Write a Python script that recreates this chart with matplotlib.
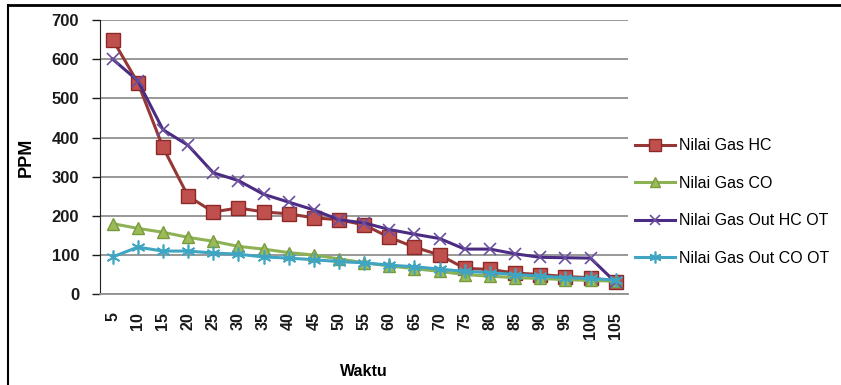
import numpy as np
import matplotlib.pyplot as plt
from matplotlib.lines import Line2D

plt.rcParams['font.family'] = ['Liberation Sans', 'DejaVu Sans']

# Data
waktu = [5, 10, 15, 20, 25, 30, 35, 40, 45, 50, 55, 60, 65, 70, 75, 80, 85, 90, 95, 100, 105]
gas_hc = [650, 540, 375, 250, 210, 220, 210, 205, 195, 190, 177, 145, 120, 100, 66, 63, 54, 50, 45, 42, 32]
gas_co = [180, 168, 158, 145, 135, 122, 115, 106, 100, 90, 80, 72, 65, 58, 50, 46, 42, 40, 37, 35, 33]
gas_out_hc = [600, 545, 420, 380, 310, 290, 255, 235, 215, 190, 182, 165, 153, 142, 115, 115, 103, 94, 93, 92, 30]
gas_out_co = [95, 120, 110, 110, 105, 102, 95, 92, 88, 83, 80, 74, 70, 64, 58, 55, 50, 46, 42, 40, 36]

x = np.arange(len(waktu))

fig = plt.figure(figsize=(8.41, 3.85), dpi=100)
ax = fig.add_axes([0.119, 0.236, 0.628, 0.712])

ax.plot(x, gas_hc, color='#953735', lw=2.2, marker='s', ms=10,
        mfc='#C0504D', mec='#8B2A28', mew=1, label='Nilai Gas HC')
ax.plot(x, gas_co, color='#8DB255', lw=2.2, marker='^', ms=9,
        mfc='#9BBB59', mec='#7A9A3F', mew=1, label='Nilai Gas CO')
ax.plot(x, gas_out_hc, color='#4B2C82', lw=2.2, marker='x', ms=9,
        mec='#6A4FA0', mew=1.2, label='Nilai Gas Out HC OT')
ax.plot(x, gas_out_co, color='#3FA5C2', lw=2.2, marker=(6, 2, 0), ms=10,
        mec='#3FA5C2', mew=1.2, label='Nilai Gas Out CO OT')

ax.set_xlim(-0.5, len(waktu) - 0.5)
ax.set_ylim(0, 700)
ax.set_yticks(range(0, 701, 100))
ax.set_xticks(x)
ax.set_xticklabels([str(w) for w in waktu], rotation=90, fontsize=11.5,
                   fontweight='bold', color='#1a1a1a')
for t in ax.get_yticklabels():
    t.set_fontweight('bold')
ax.tick_params(axis='y', labelsize=12, colors='#1a1a1a', length=6, width=1, pad=9)
ax.tick_params(axis='x', length=0, pad=13)

ax.grid(axis='y', color='#909090', lw=1.3)
ax.set_axisbelow(True)
for s in ['top', 'right']:
    ax.spines[s].set_visible(False)
ax.spines['bottom'].set_color('#909090')
ax.spines['bottom'].set_linewidth(1.3)
ax.spines['left'].set_color('#222222')

ax.set_ylabel('PPM', fontsize=13, fontweight='bold', labelpad=12)
ax.set_xlabel('Waktu', fontsize=11.5, fontweight='bold', labelpad=18)

ax.legend(loc='center left', bbox_to_anchor=(1.0, 0.336), frameon=False,
          fontsize=11.5, handlelength=2.5, labelspacing=1.4, handletextpad=0.25,
          borderaxespad=0.0, markerscale=0.85)

# outer frame (top and left edges only, as in the reference)
fig.add_artist(Line2D([0.009, 1.0], [0.988, 0.988], color='black', lw=2, transform=fig.transFigure))
fig.add_artist(Line2D([0.009, 0.009], [0.0, 0.988], color='black', lw=1.5, transform=fig.transFigure))

fig.savefig('out.png', dpi=100)
